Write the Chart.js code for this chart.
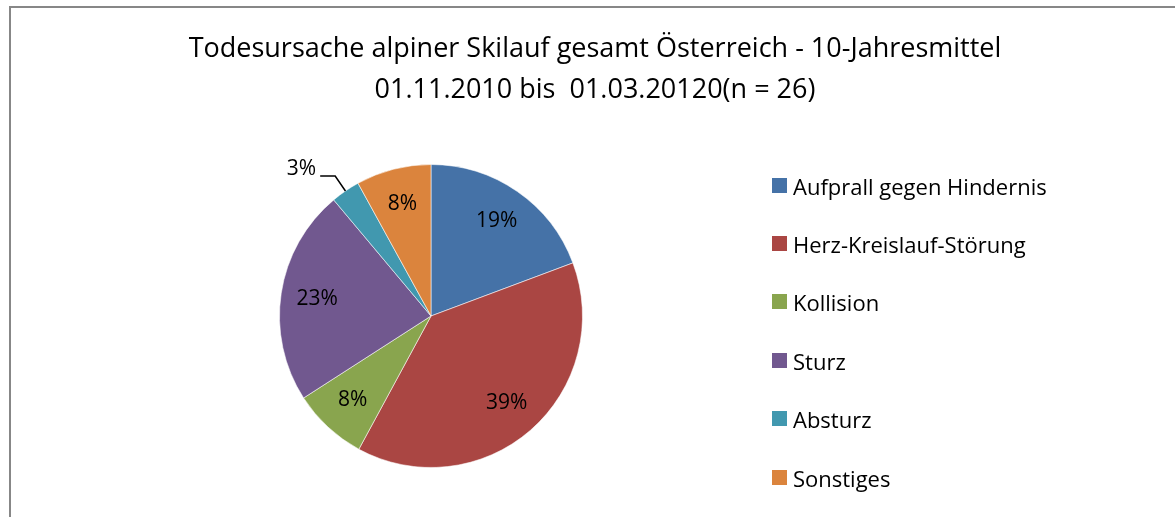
<!DOCTYPE html>
<html>
<head>
<meta charset="utf-8">
<script src="https://cdn.jsdelivr.net/npm/chart.js@4.4.0/dist/chart.umd.min.js"></script>
<style>
  html, body { margin: 0; padding: 0; background: #fff; }
  body { width: 1175px; height: 517px; position: relative; overflow: hidden; font-family: "Open Sans", "Noto Sans", sans-serif; color: #000; }
  #frame { position: absolute; left: 9px; top: 6px; width: 1200px; height: 600px; border: 2px solid #878787; box-sizing: border-box; }
  #title { position: absolute; left: 145px; width: 900px; top: 26px; text-align: center; font-size: 27px; line-height: 41px; }
  #chart-wrap { position: absolute; left: 0; top: 0; width: 1175px; height: 517px; }
  #legend { position: absolute; left: 772px; top: 0; }
  .item { position: absolute; left: 0; height: 30px; white-space: nowrap; font-size: 22px; line-height: 30px; }
  .item span.box { position: absolute; left: 0; top: 7px; width: 15px; height: 15px; }
  .item span.txt { position: absolute; left: 21px; top: 0; }
</style>
</head>
<body>
<div id="frame"></div>
<div id="chart-wrap"><canvas id="pie"></canvas></div>
<div id="title">Todesursache alpiner Skilauf gesamt Österreich - 10-Jahresmittel<br>01.11.2010 bis&nbsp; 01.03.20120(n = 26)</div>
<div id="legend"></div>
<script>
// Categories and shares (percent)
const causes = ['Aufprall gegen Hindernis', 'Herz-Kreislauf-Störung', 'Kollision', 'Sturz', 'Absturz', 'Sonstiges'];
const shares = [19.3, 38.6, 8.0, 23.0, 3.1, 8.0];
const colors = ['#4572A7', '#AA4643', '#89A54E', '#71588F', '#4198AF', '#DB843D'];

// Percentage labels: inside the slice, or outside with a leader line for tiny slices
const sliceLabels = {
  id: 'sliceLabels',
  afterDatasetsDraw(chart) {
    const ctx = chart.ctx;
    const meta = chart.getDatasetMeta(0);
    ctx.save();
    ctx.font = '21px "Open Sans", "Noto Sans", sans-serif';
    ctx.fillStyle = '#000';
    ctx.strokeStyle = '#000';
    ctx.lineWidth = 1.5;
    meta.data.forEach((arc, i) => {
      const p = arc.getProps(['x', 'y', 'startAngle', 'endAngle', 'outerRadius'], true);
      const mid = (p.startAngle + p.endAngle) / 2;
      const text = Math.round(shares[i]) + '%';
      if (shares[i] < 5) {
        // leader line: slice edge -> elbow -> short horizontal run
        const ex = p.x + Math.cos(mid) * p.outerRadius;
        const ey = p.y + Math.sin(mid) * p.outerRadius;
        const bx = p.x + Math.cos(mid) * p.outerRadius * 1.12;
        const by = p.y + Math.sin(mid) * p.outerRadius * 1.12;
        ctx.beginPath();
        ctx.moveTo(ex, ey);
        ctx.lineTo(bx, by);
        ctx.lineTo(bx - 15, by);
        ctx.stroke();
        ctx.textAlign = 'right';
        ctx.textBaseline = 'middle';
        ctx.fillText(text, bx - 19, by - 7);
      } else {
        const r = p.outerRadius * 0.76;
        ctx.textAlign = 'center';
        ctx.textBaseline = 'middle';
        ctx.fillText(text, p.x + Math.cos(mid) * r, p.y + Math.sin(mid) * r);
      }
    });
    ctx.restore();
  }
};

new Chart(document.getElementById('pie'), {
  type: 'pie',
  data: {
    labels: causes,
    datasets: [{
      data: shares,
      backgroundColor: colors,
      borderColor: 'rgba(255,255,255,0.55)',
      borderWidth: 1,
      hoverOffset: 0
    }]
  },
  options: {
    responsive: true,
    maintainAspectRatio: false,
    animation: false,
    layout: { padding: { left: 279, right: 592, top: 164, bottom: 49 } },
    plugins: {
      legend: { display: false },
      tooltip: { enabled: false }
    }
  },
  plugins: [sliceLabels]
});

// Legend on the right, one row per category
const legend = document.getElementById('legend');
const rowY = [186, 244, 302, 361, 419, 478];
causes.forEach((name, i) => {
  const row = document.createElement('div');
  row.className = 'item';
  row.style.top = (rowY[i] - 15) + 'px';
  row.innerHTML = `<span class="box" style="background:${colors[i]}"></span><span class="txt">${name}</span>`;
  legend.appendChild(row);
});
</script>
</body>
</html>
